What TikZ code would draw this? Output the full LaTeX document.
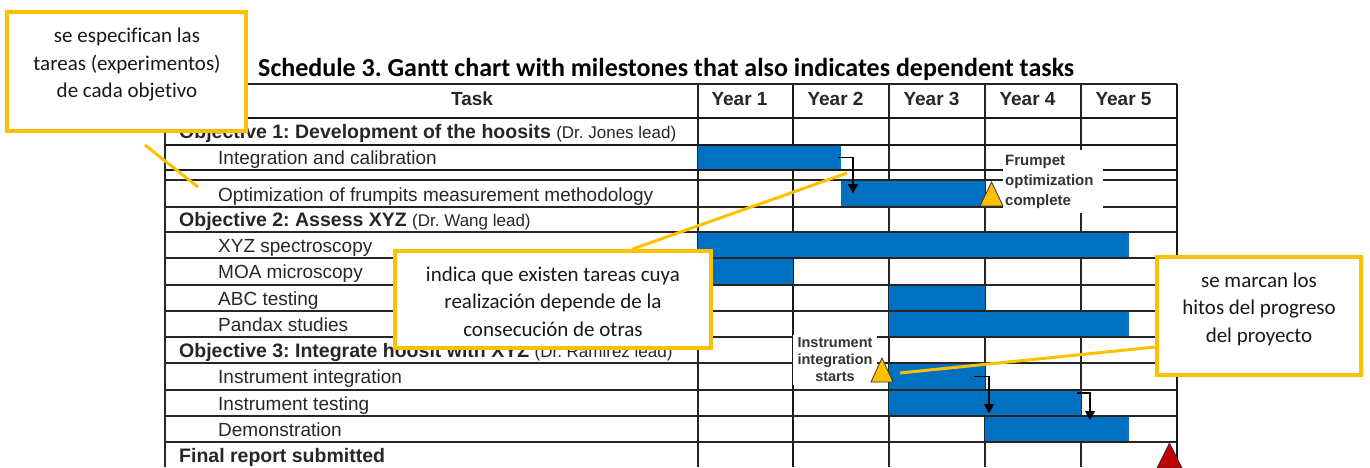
\documentclass[tikz,border=0pt]{standalone}
\usepackage{fontspec}
\setmainfont{Liberation Sans}
\newfontfamily\calibri[Ligatures=NoCommon]{Carlito}
\usetikzlibrary{arrows.meta,positioning}
\frenchspacing

\definecolor{barblue}{RGB}{0,112,192}
\definecolor{callorange}{RGB}{255,192,0}
\definecolor{mileyellow}{RGB}{255,192,0}
\definecolor{redmark}{RGB}{192,0,0}

\tikzset{
  grid/.style={line width=1.2pt,black!85},
  gridthick/.style={line width=2.6pt,black!90},
  bar/.style={fill=barblue,inner sep=0pt,anchor=north west},
  dep/.style={->,line width=1.1pt},
  mile/.style={fill=mileyellow,draw=black!80,line width=0.8pt},
  mlabel/.style={fill=white,inner sep=2pt,text=black!80},
  task/.style={anchor=base west,inner sep=0pt,font=\fontsize{19}{22}\selectfont,text=black!85},
  obj/.style={anchor=base west,inner sep=0pt,font=\fontsize{19.5}{22}\selectfont\bfseries,text=black!85},
  head/.style={anchor=base,inner sep=0pt,font=\fontsize{19}{22}\selectfont\bfseries,text=black!85},
  callbox/.style={draw=callorange,line width=3.6pt,fill=white,inner sep=0pt},
  calltext/.style={align=center,inner sep=0pt,font=\calibri\fontsize{21}{27.5}\selectfont,text=black!90},
  pointer/.style={draw=callorange,line width=3pt}
}

\begin{document}
\begin{tikzpicture}[x=1pt,y=-1pt,>={Triangle[length=9pt,width=10pt]}]
\useasboundingbox (0,0) rectangle (1370,467);

\node[anchor=base west,inner sep=0pt,font=\calibri\bfseries\fontsize{26}{30}\selectfont] (title) at (258,76)
  {Schedule 3. Gantt chart with milestones that also indicates dependent tasks};

% grid, columns first
\foreach \x in {165,698,889,985,1081}
  \draw[grid] (\x,84) -- (\x,467);
\foreach \x in {793,1177}
  \draw[gridthick] (\x,84) -- (\x,467);

% bars
\node[bar,minimum width=143pt,minimum height=25pt] (ic) at (698,145) {};
\node[bar,minimum width=144pt,minimum height=26pt] (om) at (841,181) {};
\node[bar,minimum width=431pt,minimum height=26pt] (xyz) at (698,232) {};
\node[bar,minimum width=95pt,minimum height=27pt] (moa) at (698,258) {};
\node[bar,minimum width=96pt,minimum height=26pt] (abc) at (889,285) {};
\node[bar,minimum width=240pt,minimum height=26pt] (pan) at (889,311) {};
\node[bar,minimum width=96pt,minimum height=27pt] (ii) at (889,363) {};
\node[bar,minimum width=192pt,minimum height=26pt] (it) at (889,390) {};
\node[bar,minimum width=144pt,minimum height=26pt] (dm) at (985,416) {};

\foreach \y in {84,180,207,232,258,285,311,337,363,390,416,442}
  \draw[grid] (165,\y) -- (1177,\y);
\foreach \y in {118,145,170}
  \draw[gridthick] (165,\y) -- (1177,\y);

% dependencies
\draw[dep] ([xshift=-3pt]ic.east) -| ([xshift=12pt,yshift=1pt]om.west);
\draw[dep] ([xshift=-11pt]ii.east) -| ([xshift=100pt,yshift=-10pt]it.west);
\draw[dep] ([xshift=-4pt,yshift=-3pt]it.north east) -| ([xshift=105pt,yshift=-4pt]dm.north west);

% header and rows
\node[head] (task) at (472,105) {Task};
\foreach \n in {1,...,5}
  \node[head] (year\n) at ({745.5+96*(\n-1)-6},105) {Year \n};

\node[obj] (o1) at (179,138.5) {Objective 1: Development of the hoosits {\mdseries\fontsize{17}{20}\selectfont(Dr. Jones lead)}};
\node[task] (r1) at (218,164.5) {Integration and calibration};
\node[task] (r2) at (218,201) {Optimization of frumpits measurement methodology};
\node[obj] (o2) at (179,226.5) {Objective 2: Assess XYZ {\mdseries\fontsize{17}{20}\selectfont(Dr. Wang lead)}};
\node[task] (r3) at (218,252) {XYZ spectroscopy};
\node[task] (r4) at (218,278.5) {MOA microscopy};
\node[task] (r5) at (218,305) {ABC testing};
\node[task] (r6) at (218,331) {Pandax studies};
\node[obj] (o3) at (179,357) {Objective 3: Integrate hoosit with XYZ {\mdseries\fontsize{17}{20}\selectfont(Dr. Ramirez lead)}};
\node[task] (r7) at (218,383.5) {Instrument integration};
\node[task] (r8) at (218,410) {Instrument testing};
\node[task] (r9) at (218,436) {Demonstration};
\node[obj] (fin) at (179,462) {Final report submitted};

% milestones
\node[mlabel,anchor=north west,minimum width=100pt,minimum height=63pt,text width=96pt,align=left,
  font=\fontsize{15}{20}\selectfont\bfseries] (frumpet) at (1003,150) {Frumpet\\optimization\\complete};
\node[mlabel,minimum width=84pt,minimum height=50pt,align=center,
  font=\fontsize{14.5}{17}\selectfont\bfseries] (instr) at (835,360) {Instrument\\integration\\starts};
\filldraw[mile] (980,206) -- (991.5,182) -- (1003,206) -- cycle;
\filldraw[mile] (871,382) -- (882,358) -- (893,382) -- cycle;
\filldraw[mile,fill=redmark] (1157,468) -- (1169.5,443) -- (1182,468) -- cycle;

% callouts
\node[callbox,minimum width=239pt,minimum height=119pt] (c1) at (126.5,71.5) {};
\node[calltext] (t1) at (127,65) {se especifican las\\tareas (experimentos)\\de cada objetivo};
\node[callbox,minimum width=316pt,minimum height=97pt] (c2) at (553,299.5) {};
\node[calltext] (t2) at (553,301.5) {indica que existen tareas cuya\\realización depende de la\\consecución de otras};
\node[callbox,minimum width=204pt,minimum height=118pt] (c3) at (1259,316) {};
\node[calltext] (t3) at (1259,309) {se marcan los\\hitos del progreso\\del proyecto};

\coordinate (p1s) at (145,145);
\coordinate (p1e) at (198,187);
\coordinate (p2e) at (847,173);
\coordinate (p3e) at (900,373);
\draw[pointer] (p1s) -- (p1e);
\draw[pointer] ([xshift=79pt]c2.north) -- (p2e);
\draw[pointer] ([yshift=-31pt]c3.west) -- (p3e);

\end{tikzpicture}
\end{document}
